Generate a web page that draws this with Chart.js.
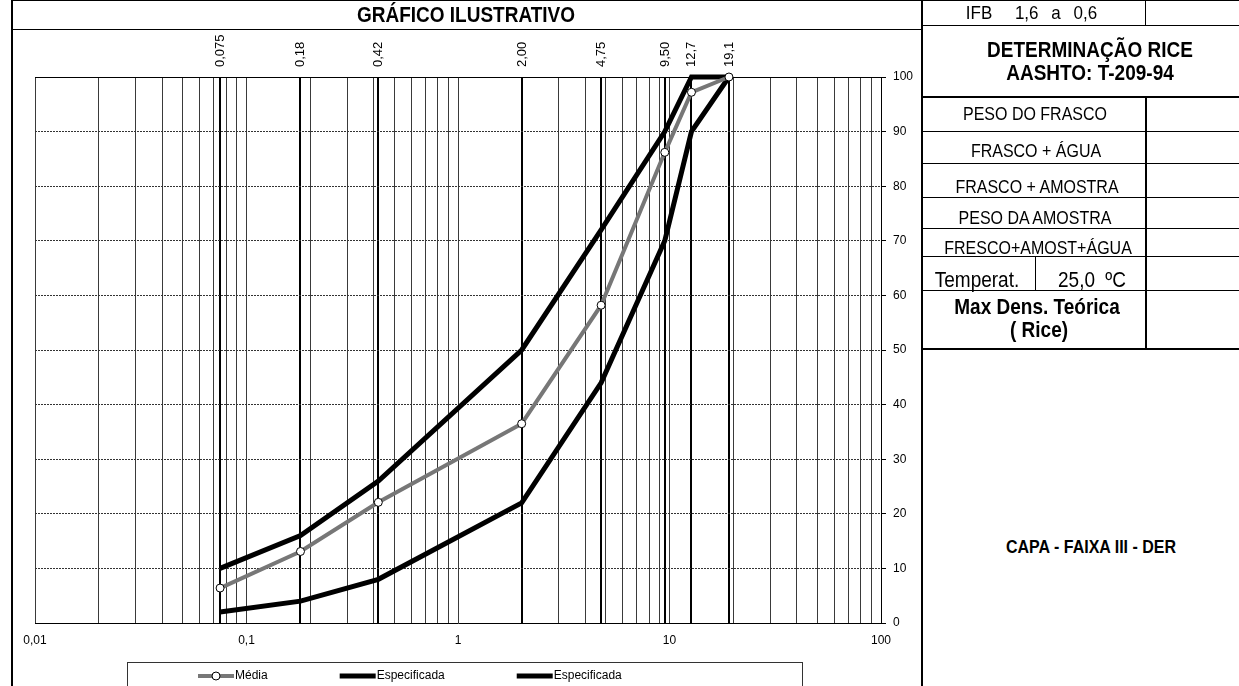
<!DOCTYPE html>
<html><head><meta charset="utf-8">
<script src="https://cdn.jsdelivr.net/npm/chart.js@4"></script>
<style>
html,body{margin:0;padding:0;background:#fff;}
#wrap{position:relative;width:1239px;height:686px;overflow:hidden;font-family:"Liberation Sans",Arial,sans-serif;color:#000;background:#fff;}
canvas#c{position:absolute;left:0;top:0;}
.l{position:absolute;background:#000;}
.t{position:absolute;white-space:nowrap;line-height:1;transform:translate(-50%,-50%) scaleY(1.12);}
.b{font-weight:bold;}
</style></head>
<body><div id="wrap">
<canvas id="c" width="920" height="686"></canvas>
<div class="l" style="left:12px;top:0;width:1227px;height:1px"></div>
<div class="l" style="left:11px;top:0;width:2px;height:686px"></div>
<div class="l" style="left:12px;top:29px;width:910px;height:1px"></div>
<div class="l" style="left:921px;top:0;width:2px;height:686px"></div>
<div class="l" style="left:922px;top:25px;width:317px;height:1px"></div>
<div class="l" style="left:1145px;top:0;width:1px;height:25px"></div>
<div class="l" style="left:922px;top:96px;width:317px;height:2px"></div>
<div class="l" style="left:922px;top:131px;width:317px;height:1px"></div>
<div class="l" style="left:922px;top:163px;width:317px;height:1px"></div>
<div class="l" style="left:922px;top:197px;width:317px;height:1px"></div>
<div class="l" style="left:922px;top:228px;width:317px;height:1px"></div>
<div class="l" style="left:922px;top:256px;width:317px;height:1px"></div>
<div class="l" style="left:922px;top:290px;width:317px;height:1px"></div>
<div class="l" style="left:922px;top:348px;width:317px;height:2px"></div>
<div class="l" style="left:1145px;top:97px;width:2px;height:252px"></div>
<div class="l" style="left:1035px;top:256px;width:1px;height:34px"></div>

<div class="t b" style="left:466px;top:15px;font-size:19px">GRÁFICO ILUSTRATIVO</div>
<div class="t" style="left:979px;top:13px;font-size:17px">IFB</div>
<div class="t" style="left:1056px;top:13px;font-size:17px;word-spacing:8px">1,6 a 0,6</div>
<div class="t b" style="left:1090px;top:50px;font-size:19px">DETERMINAÇÃO RICE</div>
<div class="t b" style="left:1090px;top:73px;font-size:19px">AASHTO: T-209-94</div>
<div class="t" style="left:1035px;top:114px;font-size:16px">PESO DO FRASCO</div>
<div class="t" style="left:1036px;top:151px;font-size:16px">FRASCO + ÁGUA</div>
<div class="t" style="left:1037px;top:187px;font-size:16px">FRASCO + AMOSTRA</div>
<div class="t" style="left:1035px;top:218px;font-size:16px">PESO DA AMOSTRA</div>
<div class="t" style="left:1038px;top:248px;font-size:16px">FRESCO+AMOST+ÁGUA</div>
<div class="t" style="left:977px;top:280px;font-size:19px">Temperat.</div>
<div class="t" style="left:1092px;top:280px;font-size:19px;word-spacing:5px">25,0 ºC</div>
<div class="t b" style="left:1037px;top:307px;font-size:19px">Max Dens. Teórica</div>
<div class="t b" style="left:1039px;top:330px;font-size:19px">( Rice)</div>
<div class="t b" style="left:1091px;top:547px;font-size:16px">CAPA - FAIXA III - DER</div>
</div>
<script>
// ---- data ----
const sieveSizes = [0.075, 0.18, 0.42, 2.00, 4.75, 9.50, 12.7, 19.1];
const sieveLabels = ['0,075', '0,18', '0,42', '2,00', '4,75', '9,50', '12,7', '19,1'];
const mediaPassing = [6.4, 13.1, 22.1, 36.5, 58.2, 86.2, 97.2, 100];
const specUpper = [10, 16, 26, 50, 72, 90, 100, 100];
const specLower = [2, 4, 8, 22, 44, 70, 90, 100];
const seriesNames = ['Média', 'Especificada', 'Especificada'];
const xMajorValues = [0.01, 0.1, 1, 10, 100];
const xMajorLabels = ['0,01', '0,1', '1', '10', '100'];
const yTickValues = [0, 10, 20, 30, 40, 50, 60, 70, 80, 90, 100];

const FONT = '"Liberation Sans", Arial, sans-serif';
const toPoints = vals => sieveSizes.map((s, i) => ({x: s, y: vals[i]}));

// minor log grid positions (1..9 per decade)
const xGridTicks = [];
for (let d = 0; d < xMajorValues.length - 1; d++) {
  for (let m = 1; m <= 9; m++) xGridTicks.push(+(m * xMajorValues[d]).toPrecision(6));
}
xGridTicks.push(xMajorValues[xMajorValues.length - 1]);

const legendBoxPlugin = {
  id: 'legendBox',
  afterDraw(chart) {
    const ctx = chart.ctx;
    ctx.save();
    ctx.strokeStyle = '#333';
    ctx.lineWidth = 1;
    ctx.strokeRect(127.5, 662.5, 675, 40);
    ctx.font = '12px ' + FONT;
    ctx.textBaseline = 'middle';
    let x = 198;
    const y = 676, sw = 36;
    chart.data.datasets.forEach(ds => {
      ctx.beginPath();
      ctx.moveTo(x, y);
      ctx.lineTo(x + sw, y);
      ctx.strokeStyle = ds.borderColor;
      ctx.lineWidth = ds.borderWidth;
      ctx.stroke();
      if (ds.pointRadius > 0) {
        ctx.beginPath();
        ctx.arc(x + sw / 2, y, ds.pointRadius, 0, Math.PI * 2);
        ctx.fillStyle = ds.pointBackgroundColor;
        ctx.fill();
        ctx.lineWidth = ds.pointBorderWidth;
        ctx.strokeStyle = ds.pointBorderColor;
        ctx.stroke();
      }
      ctx.fillStyle = '#000';
      ctx.fillText(ds.label, x + sw + 1, y);
      x += sw + 1 + ctx.measureText(ds.label).width + 72;
    });
    ctx.restore();
  }
};

new Chart(document.getElementById('c'), {
  type: 'line',
  data: {
    datasets: [
      {label: seriesNames[0], data: toPoints(mediaPassing), borderColor: '#777', borderWidth: 4,
       pointRadius: 4, pointBackgroundColor: '#fff', pointBorderColor: '#000', pointBorderWidth: 1,
       tension: 0, clip: false, order: 0},
      {label: seriesNames[1], data: toPoints(specUpper), borderColor: '#000', borderWidth: 5,
       pointRadius: 0, tension: 0, clip: false, order: 1},
      {label: seriesNames[2], data: toPoints(specLower), borderColor: '#000', borderWidth: 5,
       pointRadius: 0, tension: 0, clip: false, order: 2}
    ]
  },
  options: {
    responsive: false,
    animation: false,
    devicePixelRatio: 1,
    layout: {padding: {left: 35, right: 0, top: 0, bottom: 0}},
    plugins: {legend: {display: false}, tooltip: {enabled: false}},
    scales: {
      x: {
        type: 'logarithmic', position: 'bottom', min: 0.01, max: 100,
        afterBuildTicks: s => { s.ticks = xGridTicks.map(v => ({value: v})); },
        afterFit: s => { s.height = 63; },
        ticks: {
          autoSkip: false, maxRotation: 0, minRotation: 0, padding: 10, color: '#000',
          font: {family: FONT, size: 12},
          callback: v => {
            const i = xMajorValues.findIndex(m => Math.abs(m - v) / m < 1e-6);
            return i >= 0 ? xMajorLabels[i] : '';
          }
        },
        grid: {color: '#3a3a3a', lineWidth: 1, drawTicks: false},
        border: {display: true, color: '#000', width: 1}
      },
      x2: {
        type: 'logarithmic', position: 'top', min: 0.01, max: 100,
        afterBuildTicks: s => { s.ticks = sieveSizes.map(v => ({value: v})); },
        afterFit: s => { s.height = 77; },
        ticks: {
          autoSkip: false, minRotation: 90, maxRotation: 90, padding: 10, labelOffset: 16, color: '#000',
          font: {family: FONT, size: 13},
          callback: (v, i) => sieveLabels[i]
        },
        grid: {color: '#000', lineWidth: 2, drawTicks: false},
        border: {display: true, color: '#000', width: 1}
      },
      y: {
        type: 'linear', position: 'right', min: 0, max: 100,
        afterBuildTicks: s => { s.ticks = yTickValues.map(v => ({value: v})); },
        afterFit: s => { s.width = 39; },
        ticks: {padding: 7, color: '#000', font: {family: FONT, size: 12}},
        grid: {
          color: c => (c.tick && (c.tick.value === 0 || c.tick.value === 100)) ? 'rgba(0,0,0,0)' : '#333',
          lineWidth: 1, drawTicks: true, tickLength: 5, tickColor: '#000', tickWidth: 1
        },
        border: {display: true, color: '#000', width: 1, dash: [2, 1]}
      }
    }
  },
  plugins: [legendBoxPlugin]
});
</script>
</body></html>
